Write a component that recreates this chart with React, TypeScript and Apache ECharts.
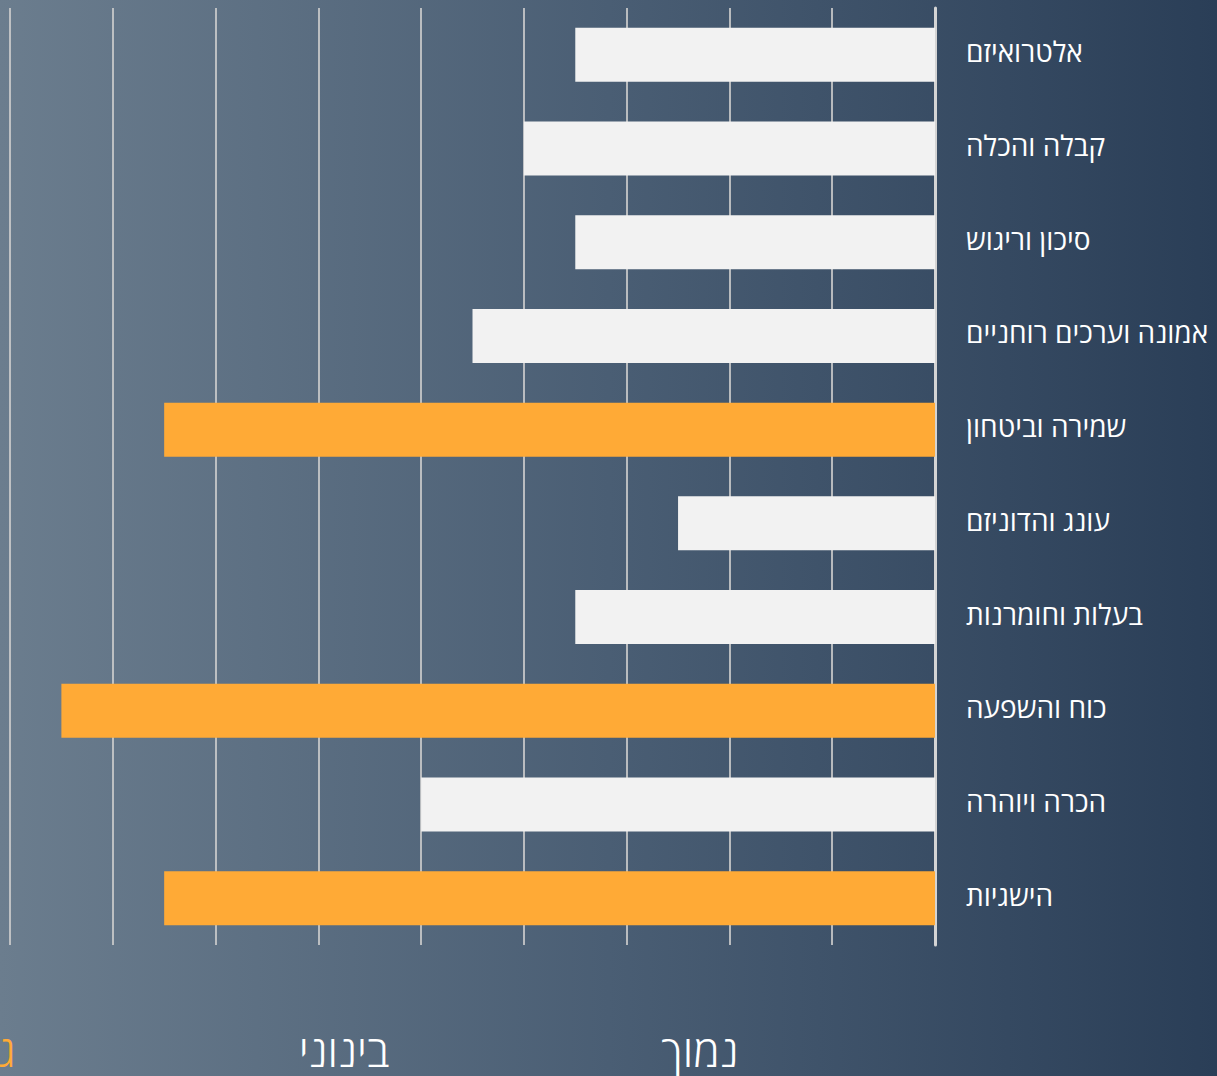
import React, { useEffect, useRef } from "react";
import * as echarts from "echarts";

const categories = [
  "אלטרואיזם",
  "קבלה והכלה",
  "סיכון וריגוש",
  "אמונה וערכים רוחניים",
  "שמירה וביטחון",
  "עונג והדוניזם",
  "בעלות וחומרנות",
  "כוח והשפעה",
  "הכרה ויוהרה",
  "הישגיות",
];
const values = [3.5, 4.0, 3.5, 4.5, 7.5, 2.5, 3.5, 8.5, 5.0, 7.5];
const highlighted = [false, false, false, false, true, false, false, true, false, true];
const levelLabels = ["נמוך", "בינוני", "גבוה"];
const levelColors = ["#ffffff", "#ffffff", "#ffaa36"];

export default function App() {
  const ref = useRef<HTMLDivElement>(null);
  useEffect(() => {
    if (!ref.current) return;
    const chart = echarts.init(ref.current, undefined, { renderer: "svg" });
    const levelX = [700, 344, -23];
    chart.setOption({
      animation: false,
      backgroundColor: new echarts.graphic.LinearGradient(0, 0, 1, 0, [
        { offset: 0, color: "#6b7d8e" },
        { offset: 0.5, color: "#4a5e74" },
        { offset: 1, color: "#2a3e57" },
      ]),
      grid: { left: 10, right: 282, top: 8, bottom: 131, containLabel: false },
      xAxis: {
        type: "value",
        inverse: true,
        min: 0,
        max: 9,
        interval: 1,
        axisLabel: { show: false },
        axisTick: { show: false },
        axisLine: { show: false },
        splitLine: { show: true, lineStyle: { color: "rgba(205,205,205,0.85)", width: 2 } },
      },
      yAxis: {
        type: "category",
        data: categories,
        inverse: true,
        position: "right",
        axisTick: { show: false },
        axisLine: { show: true, lineStyle: { color: "#d4d4d4", width: 3 } },
        axisLabel: {
          margin: 31,
          color: "#ffffff",
          fontSize: 28,
          fontFamily: "Open Sans",
          align: "left",
          formatter: "{a|{value}}",
          rich: {
            a: {
              color: "#ffffff",
              fontSize: 28,
              fontFamily: "Open Sans",
              padding: [0, 0, 7, 0],
            },
          },
        },
      },
      series: [
        {
          type: "bar",
          barWidth: 54,
          data: values.map((v, i) => ({
            value: v,
            itemStyle: { color: highlighted[i] ? "#ffaa36" : "#f2f2f2" },
          })),
          z: 1,
        },
      ],
      graphic: levelLabels.map((t, i) => ({
        type: "text",
        x: levelX[i],
        y: 1050,
        style: {
          text: t,
          fill: levelColors[i],
          fontSize: 44,
          fontWeight: 300,
          fontFamily: "Open Sans",
          textAlign: "center",
          textVerticalAlign: "middle",
        },
      })),
    });
    return () => chart.dispose();
  }, []);
  return <div ref={ref} style={{ width: 1217, height: 1076, position: "absolute", left: 0, top: 0 }} />;
}
